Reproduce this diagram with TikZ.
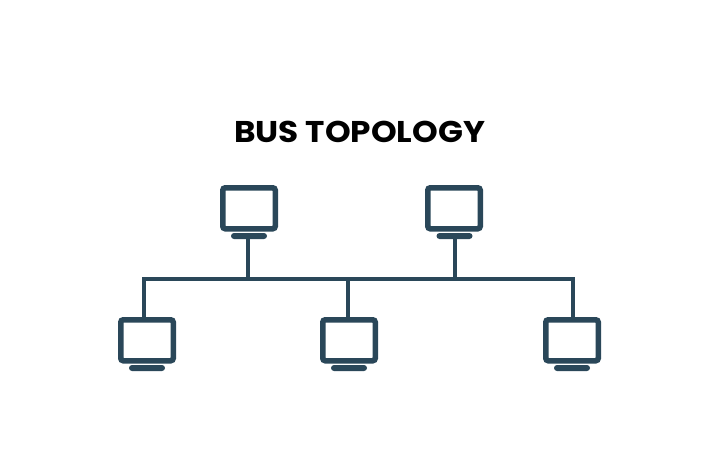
\documentclass[tikz,border=0pt]{standalone}
\usepackage{fontspec}
\setmainfont{Poppins}
\newfontfamily\titlefont[FakeStretch=1.09]{Poppins}
\definecolor{netblue}{HTML}{2A4759}
\tikzset{
  screenbox/.style={draw=netblue,line width=5.5pt,rounded corners=2.5pt,fill=white,inner sep=0pt,outer sep=auto,minimum width=52.5pt,minimum height=41pt},
  standbar/.style={fill=netblue,rounded corners=3pt,inner sep=0pt,outer sep=0pt,minimum width=36pt,minimum height=6pt},
  wire/.style={draw=netblue,line width=4pt},
  titletext/.style={inner sep=0pt,font=\titlefont\bfseries\fontsize{30pt}{32pt}\selectfont,text=black}
}
\begin{document}
\begin{tikzpicture}[x=1pt,y=-1pt]
\useasboundingbox (0,0) rectangle (720,448);
\fill[white] (0,0) rectangle (720,448);
\node[titletext] (title) at (359.5,132) {BUS TOPOLOGY};
% top row
\node[screenbox] (m1) at (249,208.25) {};
\node[standbar] (s1) at (249,236) {};
\node[screenbox] (m2) at (454,208.25) {};
\node[standbar] (s2) at (454.5,236) {};
% bottom row
\node[screenbox] (m3) at (147,340.25) {};
\node[standbar] (s3) at (147,368) {};
\node[screenbox] (m4) at (349,340.25) {};
\node[standbar] (s4) at (349,368) {};
\node[screenbox] (m5) at (572,340.25) {};
\node[standbar] (s5) at (572,368) {};
% bus junctions
\coordinate (jl) at (144,278.5);
\coordinate (ja) at (248,278.5);
\coordinate (jm) at (348,278.5);
\coordinate (jb) at (455,278.5);
\coordinate (jr) at (573,278.5);
\draw[wire,line join=miter] (m3.north -| jl) -- (jl) -- (jr) -- (m5.north -| jr);
\draw[wire] (s1.south -| ja) -- (ja);
\draw[wire] (s2.south -| jb) -- (jb);
\draw[wire] (jm) -- (m4.north -| jm);
\end{tikzpicture}
\end{document}
